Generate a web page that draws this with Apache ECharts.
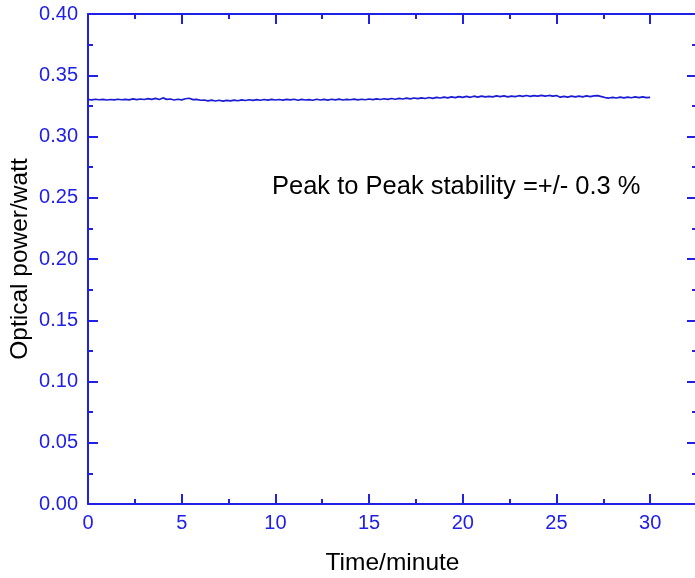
<!DOCTYPE html>
<html>
<head>
<meta charset="utf-8">
<script src="https://cdn.jsdelivr.net/npm/echarts@6/dist/echarts.min.js"></script>
<style>
html,body{margin:0;padding:0;background:#fff;}
#chart{width:695px;height:578px;}
</style>
</head>
<body>
<div id="chart"></div>
<script>
// ---- data ----
var timeStep = 0.2; // minutes between samples
var powerValues = [
  0.3302, 0.3299, 0.3304, 0.3300, 0.3303, 0.3298, 0.3302, 0.3299, 0.3304, 0.3300, 0.3303,
  0.3299, 0.3307, 0.3301, 0.3306, 0.3302, 0.3309, 0.3303, 0.3311, 0.3302,
  0.3315, 0.3303, 0.3306, 0.3298, 0.3304, 0.3299,
  0.3308, 0.3312, 0.3301, 0.3303, 0.3296,
  0.3298, 0.3291, 0.3297, 0.3290, 0.3296, 0.3289, 0.3295, 0.3291,
  0.3297, 0.3292, 0.3299, 0.3294, 0.3300, 0.3295, 0.3301, 0.3296, 0.3302, 0.3297, 0.3303, 0.3298,
  0.3302, 0.3297, 0.3303, 0.3299, 0.3304, 0.3296, 0.3303, 0.3298, 0.3301, 0.3296,
  0.3304, 0.3298, 0.3303, 0.3297, 0.3304, 0.3299, 0.3305, 0.3298, 0.3303, 0.3300,
  0.3305, 0.3299, 0.3304, 0.3300, 0.3306, 0.3301, 0.3307, 0.3302, 0.3308, 0.3303,
  0.3310, 0.3304, 0.3311, 0.3306, 0.3313, 0.3307, 0.3314, 0.3309, 0.3315, 0.3310,
  0.3318, 0.3311, 0.3319, 0.3314, 0.3321, 0.3315, 0.3323, 0.3317, 0.3325, 0.3319,
  0.3327, 0.3320, 0.3329, 0.3322, 0.3330, 0.3323, 0.3328, 0.3324, 0.3332, 0.3325,
  0.3331, 0.3324, 0.3330, 0.3326, 0.3333, 0.3327, 0.3335, 0.3328, 0.3334, 0.3330,
  0.3336, 0.3329, 0.3335, 0.3330, 0.3334, 0.3321, 0.3328, 0.3322, 0.3329, 0.3323,
  0.3330, 0.3324, 0.3331, 0.3325, 0.3332, 0.3334, 0.3326, 0.3318, 0.3314, 0.3320,
  0.3314, 0.3321, 0.3315, 0.3322, 0.3316, 0.3323, 0.3317, 0.3324, 0.3318, 0.3320
];
var xAxisTitle = 'Time/minute';
var yAxisTitle = 'Optical power/watt';
var annotationText = 'Peak to Peak stability =+/- 0.3 %';

// ---- chart ----
var blue = '#2020e6';
var lineBlue = '#1c1cd6';
var seriesData = powerValues.map(function (v, i) {
  return [Number((i * timeStep).toFixed(1)), v];
});

var chart = echarts.init(document.getElementById('chart'), null, {renderer: 'canvas'});

function xAx(pos, showLabels) {
  return {
    type: 'value', position: pos, min: 0, max: 32.5, interval: 5,
    axisLine: {show: true, onZero: false, lineStyle: {color: blue, width: 2}},
    axisTick: {show: true, inside: true, length: 10, lineStyle: {color: blue, width: 2}},
    minorTick: {show: true, splitNumber: 2, length: 5, lineStyle: {color: blue, width: 2}},
    splitLine: {show: false},
    axisLabel: {show: showLabels, color: blue, fontFamily: 'Liberation Sans', fontSize: 20, margin: 9,
      showMaxLabel: false},
    name: showLabels ? xAxisTitle : '',
    nameLocation: 'middle', nameGap: 47, nameMoveOverlap: false,
    nameTextStyle: {color: '#000', fontFamily: 'Liberation Sans', fontSize: 24.5}
  };
}
function yAx(pos, showLabels) {
  return {
    type: 'value', position: pos, min: 0, max: 0.4, interval: 0.05,
    axisLine: {show: true, onZero: false, lineStyle: {color: blue, width: 2}},
    axisTick: {show: true, inside: true, length: 10, lineStyle: {color: blue, width: 2}},
    minorTick: {show: true, splitNumber: 2, length: 5, lineStyle: {color: blue, width: 2}},
    splitLine: {show: false},
    axisLabel: {show: showLabels, color: blue, fontFamily: 'Liberation Sans', fontSize: 20, margin: 10,
      formatter: function (v) { return v.toFixed(2); }},
    name: showLabels ? yAxisTitle : '',
    nameLocation: 'middle', nameGap: 55, nameRotate: 90, nameMoveOverlap: false,
    nameTextStyle: {color: '#000', fontFamily: 'Liberation Sans', fontSize: 24.5}
  };
}

chart.setOption({
  animation: false,
  backgroundColor: '#fff',
  grid: {left: 88, right: -2, top: 14, bottom: 74, containLabel: false, outerBoundsMode: 'none'},
  xAxis: [xAx('bottom', true), xAx('top', false)],
  yAxis: [yAx('left', true), yAx('right', false)],
  series: [{
    type: 'line', xAxisIndex: 0, yAxisIndex: 0,
    data: seriesData, showSymbol: false, symbol: 'none',
    lineStyle: {color: lineBlue, width: 1.7}
  }],
  graphic: [{
    type: 'text', left: 272, top: 174,
    style: {text: annotationText, fill: '#000', font: '25.5px "Liberation Sans"'}
  }]
});
</script>
</body>
</html>
